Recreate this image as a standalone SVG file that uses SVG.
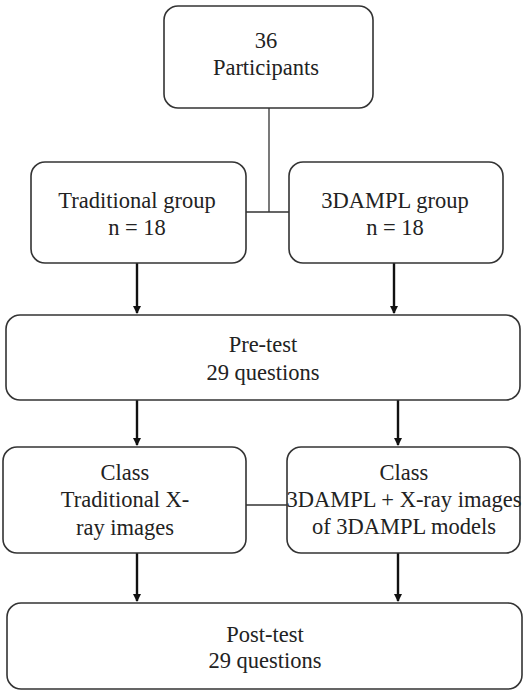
<svg xmlns="http://www.w3.org/2000/svg" width="526" height="690" viewBox="0 0 526 690">
<style>
.box{fill:#fff;stroke:#333;stroke-width:1.6}
.t{font-family:'Liberation Serif','DejaVu Serif','Times New Roman',serif;font-size:22.5px;fill:#222;text-anchor:middle}
.ln{stroke:#333;stroke-width:1.3;fill:none}
.ar{stroke:#111;stroke-width:2.4;fill:none}
</style>
<defs>
<marker id="ah" markerWidth="8" markerHeight="8" refX="7" refY="4" orient="auto" markerUnits="userSpaceOnUse" viewBox="0 0 8 8">
<path d="M0,0 L8,4 L0,8 Z" fill="#111"/>
</marker>
</defs>
<rect width="526" height="690" fill="#fff"/>
<g id="connectors">
<path class="ln" d="M269,108 V212 M246,212 H289"/>
<path class="ln" d="M246,505 H287"/>
<path class="ar" d="M137,263 V313" marker-end="url(#ah)"/>
<path class="ar" d="M394,263 V313" marker-end="url(#ah)"/>
<path class="ar" d="M137,400 V445" marker-end="url(#ah)"/>
<path class="ar" d="M398,400 V445" marker-end="url(#ah)"/>
<path class="ar" d="M137,553 V601" marker-end="url(#ah)"/>
<path class="ar" d="M398,553 V601" marker-end="url(#ah)"/>
</g>
<g id="participants">
<rect class="box" x="164" y="6" width="209" height="102" rx="14"/>
<text class="t" x="266" y="48">36</text>
<text class="t" x="266" y="75">Participants</text>
</g>
<g id="traditional-group">
<rect class="box" x="31" y="162" width="215" height="101" rx="14"/>
<text class="t" x="137" y="208">Traditional group</text>
<text class="t" x="137" y="235">n = 18</text>
</g>
<g id="3dampl-group">
<rect class="box" x="289" y="162" width="214" height="101" rx="14"/>
<text class="t" x="395" y="208">3DAMPL group</text>
<text class="t" x="395" y="235">n = 18</text>
</g>
<g id="pre-test">
<rect class="box" x="6" y="315" width="514" height="85" rx="14"/>
<text class="t" x="263" y="352">Pre-test</text>
<text class="t" x="263" y="380">29 questions</text>
</g>
<g id="class-traditional">
<rect class="box" x="3" y="447" width="243" height="106" rx="14"/>
<text class="t" x="125" y="480">Class</text>
<text class="t" x="125" y="507">Traditional X-</text>
<text class="t" x="125" y="535">ray images</text>
</g>
<g id="class-3dampl">
<rect class="box" x="287" y="447" width="233" height="106" rx="14"/>
<text class="t" x="404" y="480">Class</text>
<text class="t" x="404" y="507">3DAMPL + X-ray images</text>
<text class="t" x="404" y="534">of 3DAMPL models</text>
</g>
<g id="post-test">
<rect class="box" x="7" y="603" width="515" height="86" rx="14"/>
<text class="t" x="265" y="642">Post-test</text>
<text class="t" x="265" y="668">29 questions</text>
</g>
</svg>
